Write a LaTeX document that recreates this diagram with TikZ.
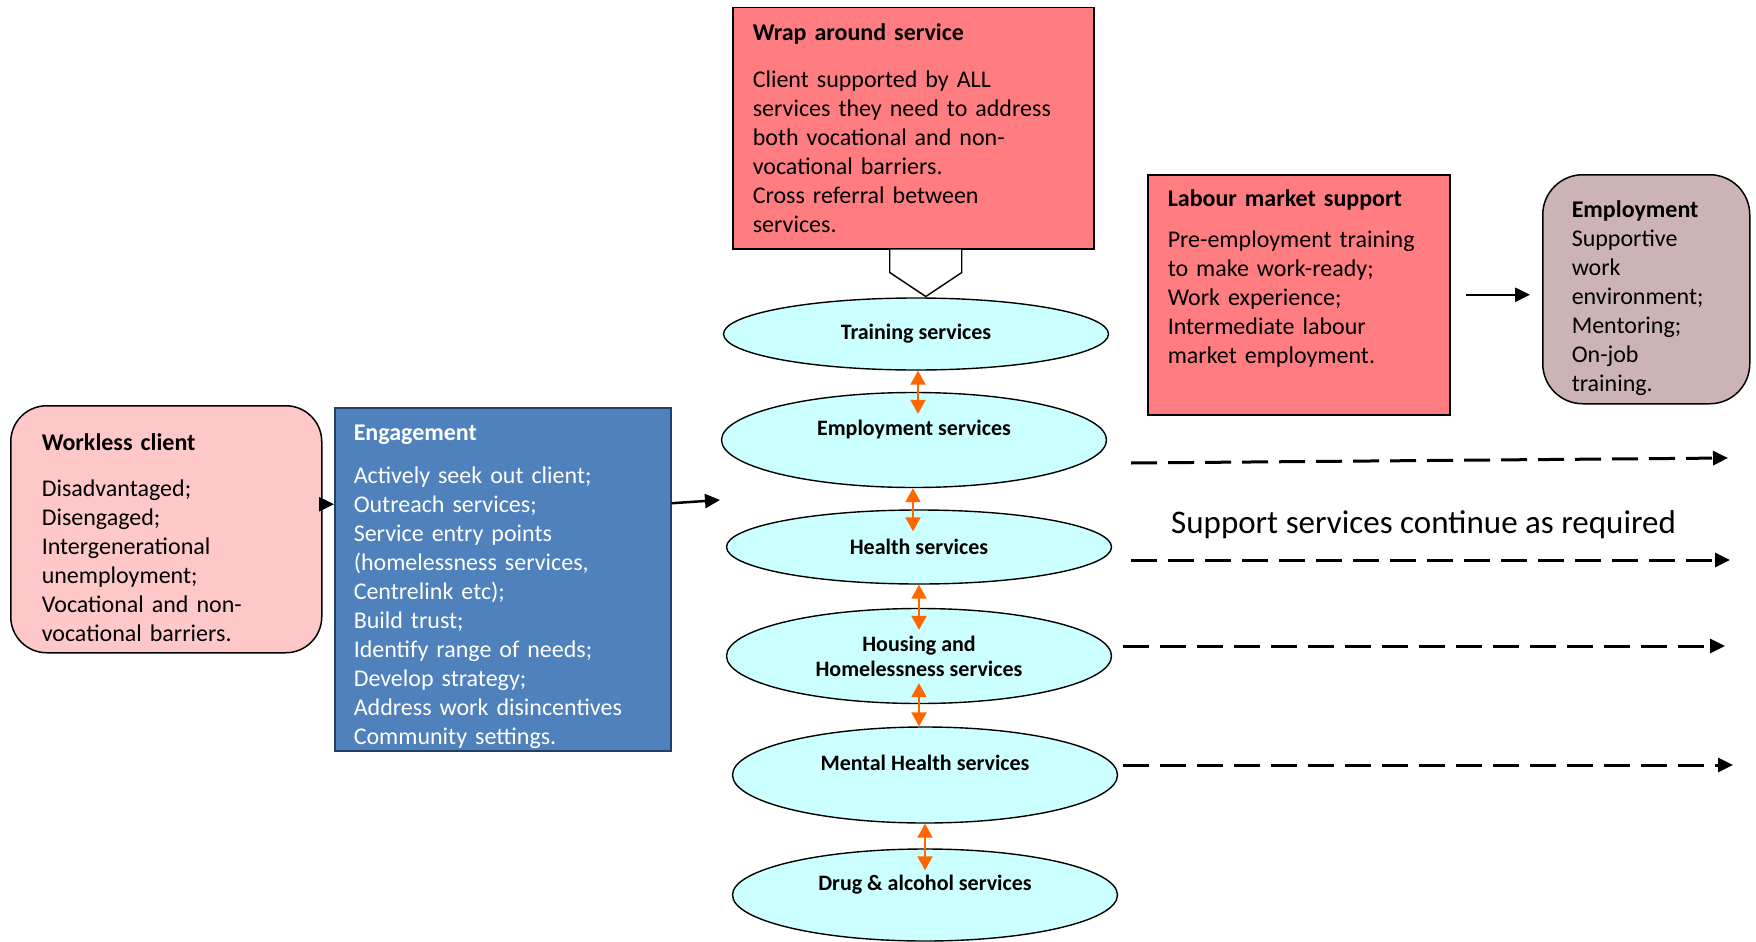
\documentclass[tikz,border=0pt]{standalone}
\usepackage{fontspec}
\setmainfont{Carlito}
\usetikzlibrary{arrows.meta,shapes.geometric}

\definecolor{wrapred}{HTML}{FF7C80}
\definecolor{clientpink}{HTML}{FFC8C8}
\definecolor{engblue}{HTML}{4F81BD}
\definecolor{engborder}{HTML}{243F66}
\definecolor{jobmauve}{HTML}{CBB3B6}
\definecolor{svccyan}{HTML}{CCFFFF}
\definecolor{linkorange}{HTML}{FF6600}

\begin{document}
\begin{tikzpicture}[x=1pt,y=-1pt,>={Triangle[length=15pt,width=14pt]},
  box/.style={draw,line width=1.5pt,anchor=north west,align=left,inner xsep=20pt,inner ysep=0pt,font=\fontsize{24}{29}\selectfont},
  svc/.style={ellipse,draw,line width=1.4pt,fill=svccyan,minimum width=385pt,inner sep=0pt,align=center,font=\bfseries\fontsize{22}{25}\selectfont},
  link/.style={<->,linkorange,line width=2pt,>={Triangle[length=14pt,width=15pt]},shorten >=-22pt},
  arr/.style={->,line width=2.5pt},
  cont/.style={->,line width=3pt,dash pattern=on 26pt off 11pt}]
\useasboundingbox (0,0) rectangle (1756,942);

% boxes
\node[box,fill=wrapred,text width=321pt,minimum height=241pt] (wrap) at (732,7)
  {\textbf{Wrap around service}\\[18pt]
   Client supported by ALL\\
   services they need to address\\
   both vocational and non-\\
   vocational barriers.\\
   Cross referral between\\
   services.};
\node[box,fill=clientpink,rounded corners=36pt,inner xsep=31pt,text width=249pt,minimum height=247pt] (client) at (10,405)
  {\rule{0pt}{34pt}\textbf{Workless client}\\[17pt]
   Disadvantaged;\\
   Disengaged;\\
   Intergenerational\\
   unemployment;\\
   Vocational and non-\\
   vocational barriers.};
\node[box,fill=engblue,draw=engborder,text=white,inner xsep=19pt,text width=298pt,minimum height=343pt] (engage) at (334,407)
  {\rule{0pt}{30pt}\textbf{Engagement}\\[14pt]
   Actively seek out client;\\
   Outreach services;\\
   Service entry points\\
   (homelessness services,\\
   Centrelink etc);\\
   Build trust;\\
   Identify range of needs;\\
   Develop strategy;\\
   Address work disincentives\\
   Community settings.};
\node[box,fill=wrapred,text width=262pt,minimum height=240pt] (labour) at (1147,174)
  {\textbf{Labour market support}\\[12pt]
   Pre-employment training\\
   to make work-ready;\\
   Work experience;\\
   Intermediate labour\\
   market employment.\\[7pt]
   \mbox{}};
\node[box,fill=jobmauve,rounded corners=40pt,inner xsep=29pt,text width=149pt,minimum height=229pt] (job) at (1542,174)
  {\rule{0pt}{34pt}\textbf{Employment}\\
   Supportive\\
   work\\
   environment;\\
   Mentoring;\\
   On-job\\
   training.};

% services
\node[svc,minimum height=72pt] (train) at (916,334) {Training services};
\node[svc,minimum height=95pt,text depth=25pt] (employ) at (914,440) {Employment services};
\node[svc,minimum height=74pt] (health) at (919,547) {Health services};
\node[svc,minimum height=95pt] (housing) at (919,656) {Housing and\\Homelessness services};
\node[svc,minimum height=96pt,text depth=25pt] (mental) at (925,775) {Mental Health services};
\node[svc,minimum height=92pt,text depth=25pt] (drug) at (925,895) {Drug \& alcohol services};

\node[font=\fontsize{33}{38}\selectfont,anchor=base west,inner sep=0pt] (contlbl) at (1171,533) {Support services continue as required};

\coordinate (svcin) at (720,500);
\coordinate (c1a) at (1131,463); \coordinate (c1b) at (1728,458);
\coordinate (c2a) at (1131,560); \coordinate (c2b) at (1730,560);
\coordinate (c3a) at (1123,646); \coordinate (c3b) at (1725,646);
\coordinate (c4a) at (1123,765); \coordinate (c4b) at (1733,765);

% wrap-around block arrow
\draw[line width=1.4pt,fill=white] ([xshift=-23.5pt]wrap.south) -- ++(0,23) -- ++(36,24) -- ++(36,-24) -- ++(0,-23);

\path[link]
  ([xshift=2pt]train.south) edge ([xshift=2pt]train.south |- employ.north)
  ([xshift=-1pt]employ.south) edge ([xshift=-1pt]employ.south |- health.north)
  (health.south) edge (health.south |- housing.north)
  (housing.south) edge[shorten <=-21pt,shorten >=0pt] (housing.south |- mental.north)
  (mental.south) edge (mental.south |- drug.north);

\draw[arr] ([yshift=25pt]client.east) -- ([yshift=25pt]client.east -| engage.west);
\draw[arr] ([yshift=76pt]engage.east) -- (svcin);
\draw[arr,shorten <=15pt,shorten >=12pt] (labour.east) -- (labour.east -| job.west);

\draw[cont] (c1a) -- (c1b);
\draw[cont] (c2a) -- (c2b);
\draw[cont] (c3a) -- (c3b);
\draw[cont] (c4a) -- (c4b);
\end{tikzpicture}
\end{document}
